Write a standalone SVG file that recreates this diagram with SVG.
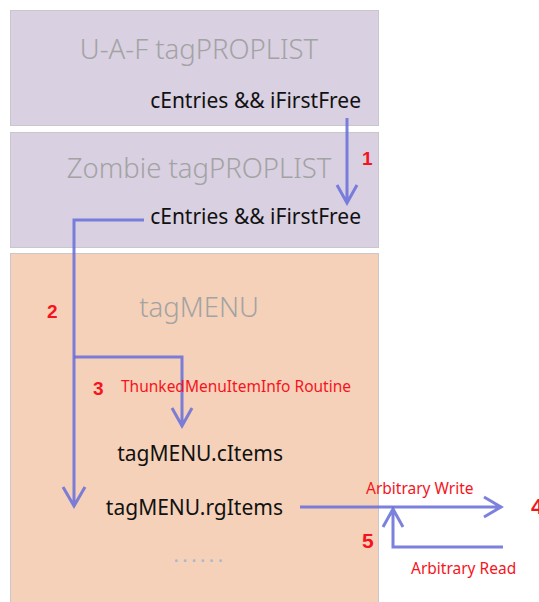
<svg xmlns="http://www.w3.org/2000/svg" width="539" height="602" viewBox="0 0 539 602">
<defs>
<style>
.box{stroke:#c9c6cc;stroke-width:1}
.p{fill:#d9d0e2}
.o{fill:#f5d1b9}
.title{font-family:"Noto Sans","Open Sans",sans-serif;font-size:27.5px;font-weight:300;fill:#a3a3a3;text-anchor:middle}
.field{font-family:"Noto Sans","Open Sans",sans-serif;font-size:21px;fill:#111;text-anchor:end}
.num{font-family:"Liberation Sans",Arial,sans-serif;font-size:19px;font-weight:bold;fill:#f5141e}
.lbl{font-family:"Noto Sans","Open Sans",sans-serif;font-size:15.5px;fill:#f5141e}
.c{fill:none;stroke:#6a70d8;stroke-opacity:0.88;stroke-width:3}
</style>
</defs>
<rect width="539" height="602" fill="#fff"/>
<g id="uaf">
<rect class="box p" x="10.5" y="10.5" width="368" height="115"/>
<text class="title" x="199" y="59">U-A-F tagPROPLIST</text>
<text class="field" x="361" y="108">cEntries &amp;&amp; iFirstFree</text>
</g>
<g id="zombie">
<rect class="box p" x="10.5" y="132.5" width="368" height="115"/>
<text class="title" x="199" y="178">Zombie tagPROPLIST</text>
<text class="field" x="361" y="224">cEntries &amp;&amp; iFirstFree</text>
</g>
<g id="tagmenu">
<rect class="box o" x="10.5" y="253.5" width="368" height="360"/>
<text class="title" x="199" y="317">tagMENU</text>
<text class="field" x="283" y="461">tagMENU.cItems</text>
<text class="field" x="283" y="515">tagMENU.rgItems</text>
<text x="200" y="562" style="font-family:'Noto Sans',sans-serif;font-size:20px;fill:#a9b6cc;text-anchor:middle;letter-spacing:3.5px">......</text>
</g>
<g id="connectors">
<path class="c" d="M347 118V203M337 185L347 203L357 185"/>
<path class="c" d="M144 220H74V506M63 487L74 506L85 487"/>
<path class="c" d="M74 357H182V426M172 408L182 426L192 408"/>
<path class="c" d="M300 507H501M484 497L501 507L484 517"/>
<path class="c" d="M503 547H393V509M383 527L393 509L403 527"/>
</g>
<g id="labels">
<text class="num" x="362" y="165">1</text>
<text class="num" x="47" y="318">2</text>
<text class="num" x="93" y="395">3</text>
<text class="lbl" x="121" y="392">ThunkedMenuItemInfo Routine</text>
<text class="lbl" x="366" y="494">Arbitrary Write</text>
<text class="num" x="531" y="514" style="font-size:22px">4</text>
<text class="num" x="362" y="548" style="font-size:21px">5</text>
<text class="lbl" x="411" y="574">Arbitrary Read</text>
</g>
</svg>
